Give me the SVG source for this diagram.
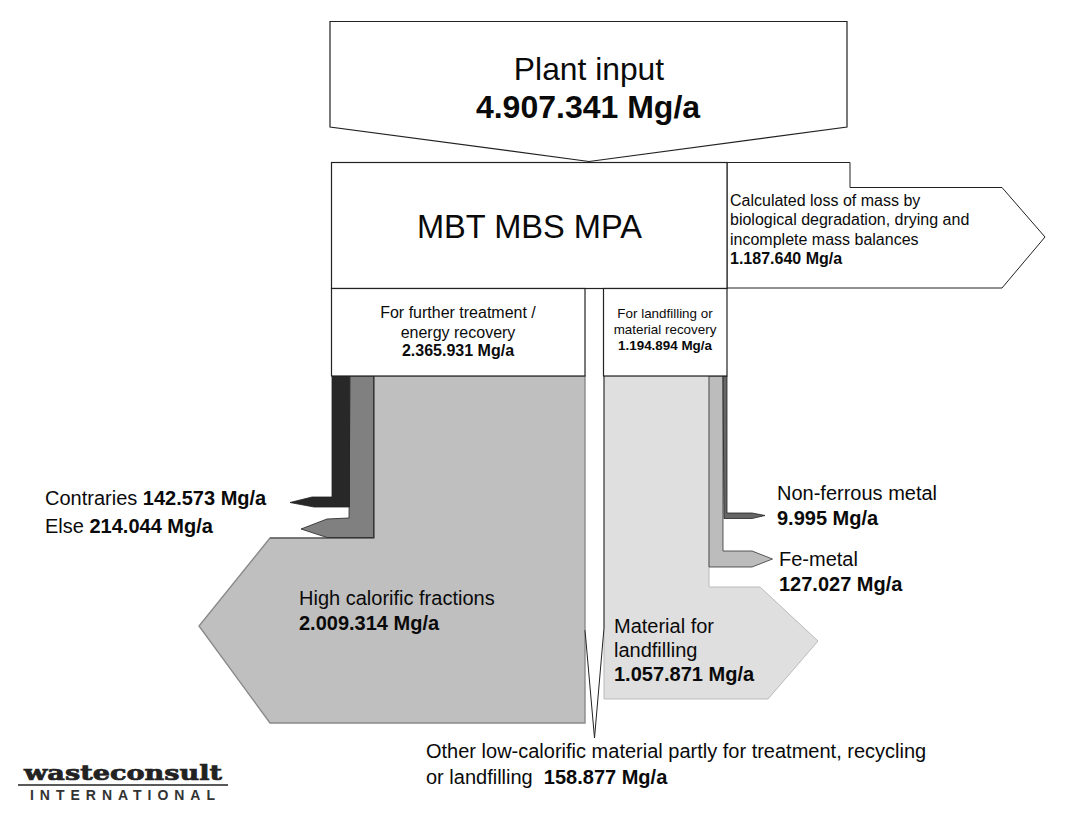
<svg xmlns="http://www.w3.org/2000/svg" width="1078" height="823" viewBox="0 0 1078 823">
<style>
text{font-family:"Liberation Sans",Arial,sans-serif;fill:#0a0a0a}
.b{font-weight:700}
.w{fill:#fff;stroke:#222;stroke-width:1.2}
.m{text-anchor:middle}
.l{font-size:20px}
.s{font-size:16px}
.t{font-size:13.400px}
</style>
<rect width="1078" height="823" fill="#fff"/>
<g id="connectors">
<path id="flow-loss" d="M727 162.500H850V187.500H1002L1045 237L1002 288H727Z" fill="#fff" stroke="#222" stroke-width="1"/>
<path id="flow-high" d="M374 376H585V723H270L199 626L270 538H374Z" fill="#bfbfbf" stroke="#8a8a8a" stroke-width="1.400"/>
<path id="flow-high-edge" d="M374 376V538H270" fill="none" stroke="#333" stroke-width=".8"/>
<path id="flow-else" d="M350 376H373.500V537.500H327L301 529L327 519L349 518Z" fill="#808080" stroke="#222" stroke-width=".8"/>
<path id="flow-contraries" d="M332 376H349.500V507H314L290 502.500L312 497L332 497Z" fill="#282828" stroke="#222" stroke-width=".8"/>
<path id="flow-landfill" d="M604 376H709V587H760L818 641L768 699H604Z" fill="#dfdfdf" stroke="#bbb" stroke-width="1"/>
<path id="flow-landfill-edge" d="M604 376V628" fill="none" stroke="#222" stroke-width="1"/>
<path id="flow-fe" d="M709 376H723V551H752L772.500 559L752 567H709Z" fill="#bcbcbc" stroke="#333" stroke-width=".8"/>
<path id="flow-nf" d="M723 376H727V513H752L765 515.500L752 518.500H724Z" fill="#666" stroke="#222" stroke-width=".8"/>
<path id="flow-other" d="M585 630L594.500 738L604 628" fill="#fff" stroke="#222" stroke-width="1"/>
</g>
<g id="node-input">
<path d="M330 21.500H847V127L589 161.500L330 127Z" class="w"/>
<text x="589" y="80" font-size="31.800" class="m">Plant input</text>
<text x="588" y="118" font-size="32" class="b m">4.907.341 Mg/a</text>
</g>
<g id="node-plant">
<rect x="331.500" y="162.500" width="395.500" height="126" class="w"/>
<text x="529.500" y="238" font-size="32.600" class="m">MBT MBS MPA</text>
</g>
<g id="node-further">
<rect x="331.500" y="288.500" width="253.500" height="87.500" class="w"/>
<text x="458" y="318" class="s m">For further treatment /</text>
<text x="458" y="338" class="s m">energy recovery</text>
<text x="458" y="356" class="s b m">2.365.931 Mg/a</text>
</g>
<g id="node-landfill-recovery">
<rect x="603.500" y="288.500" width="123.500" height="87.500" class="w"/>
<text x="665" y="318" class="t m">For landfilling or</text>
<text x="665" y="334" class="t m">material recovery</text>
<text x="665" y="350" class="t b m">1.194.894 Mg/a</text>
</g>
<g id="label-loss">
<text x="730" y="206" class="s">Calculated loss of mass by</text>
<text x="730" y="225" class="s">biological degradation, drying and</text>
<text x="730" y="245" class="s">incomplete mass balances</text>
<text x="730" y="264" class="s b">1.187.640 Mg/a</text>
</g>
<g id="label-contraries"><text x="45" y="505" class="l">Contraries <tspan class="b">142.573 Mg/a</tspan></text></g>
<g id="label-else"><text x="45" y="533" class="l">Else <tspan class="b">214.044 Mg/a</tspan></text></g>
<g id="label-high">
<text x="299" y="605" class="l">High calorific fractions</text>
<text x="299" y="630" class="l b">2.009.314 Mg/a</text>
</g>
<g id="label-nf">
<text x="777" y="500" class="l">Non-ferrous metal</text>
<text x="777" y="525" class="l b">9.995 Mg/a</text>
</g>
<g id="label-fe">
<text x="779" y="566" class="l">Fe-metal</text>
<text x="779" y="591" class="l b">127.027 Mg/a</text>
</g>
<g id="label-landfill">
<text x="614" y="633" class="l">Material for</text>
<text x="614" y="657" class="l">landfilling</text>
<text x="614" y="681" class="l b">1.057.871 Mg/a</text>
</g>
<g id="label-other">
<text x="426" y="758" class="l">Other low-calorific material partly for treatment, recycling</text>
<text x="426" y="784" class="l" xml:space="preserve">or landfilling  <tspan class="b">158.877 Mg/a</tspan></text>
</g>
<g id="logo">
<text x="24" y="780" font-size="21" font-weight="700" style="font-family:'DejaVu Serif',serif;fill:#222" stroke="#222" stroke-width=".7" textLength="198" lengthAdjust="spacingAndGlyphs">wasteconsult</text>
<line x1="18" y1="785" x2="228" y2="785" stroke="#222" stroke-width="1.600"/>
<text x="30" y="800" font-size="14" class="b" style="fill:#333" textLength="185" lengthAdjust="spacing">INTERNATIONAL</text>
</g>
</svg>
